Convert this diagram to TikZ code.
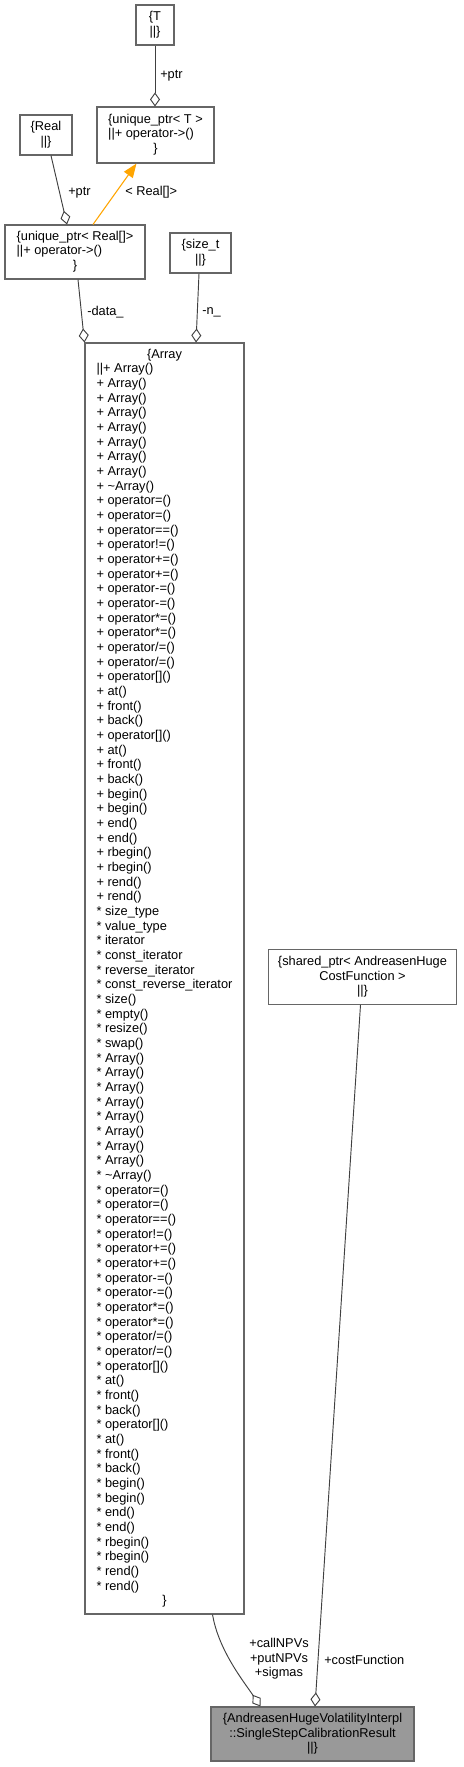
\documentclass[tikz,border=0pt]{standalone}
\usepackage{fontspec}
\setmainfont{Liberation Sans}
\usepackage{tikz}
\usetikzlibrary{arrows.meta, positioning, calc}
\usepackage{xcolor}

\definecolor{nodeedge}{HTML}{666666}
\definecolor{linkgray}{HTML}{404040}
\definecolor{curfill}{HTML}{999999}
\definecolor{tmplorange}{HTML}{FFA500}

\newcommand{\ctrrow}[1]{\multicolumn{1}{@{}c@{}}{#1}}
\newcommand{\memb}[2]{#1 #2}
% the operator block is the same for the + and the * part
\newcommand{\arrayops}[1]{%
  \memb{#1}{operator=()}\\ \memb{#1}{operator=()}\\ \memb{#1}{operator==()}\\
  \memb{#1}{operator!=()}\\ \memb{#1}{operator+=()}\\ \memb{#1}{operator+=()}\\
  \memb{#1}{operator-=()}\\ \memb{#1}{operator-=()}\\ \memb{#1}{operator*=()}\\
  \memb{#1}{operator*=()}\\ \memb{#1}{operator/=()}\\ \memb{#1}{operator/=()}\\
  \memb{#1}{operator[]()}\\ \memb{#1}{at()}\\ \memb{#1}{front()}\\ \memb{#1}{back()}\\
  \memb{#1}{operator[]()}\\ \memb{#1}{at()}\\ \memb{#1}{front()}\\ \memb{#1}{back()}\\
  \memb{#1}{begin()}\\ \memb{#1}{begin()}\\ \memb{#1}{end()}\\ \memb{#1}{end()}\\
  \memb{#1}{rbegin()}\\ \memb{#1}{rbegin()}\\ \memb{#1}{rend()}\\ \memb{#1}{rend()}}

\tikzset{
  cls/.style={draw=nodeedge, line width=0.8pt, fill=white, inner sep=0pt,
    font=\fontsize{9.6}{11}\selectfont},
  curcls/.style={cls, fill=curfill},
  agg/.style={draw=linkgray, line width=0.7pt, -{Diamond[open, length=10.5pt, width=7.5pt]}},
  tmpl/.style={draw=tmplorange, line width=0.8pt, -{Triangle[length=10.5pt, width=8pt]}},
  lbl/.style={inner sep=0pt, font=\fontsize{9.6}{11}\selectfont}
}

\begin{document}
\begin{tikzpicture}[x=0.75pt, y=-0.75pt]
\useasboundingbox[fill=white] (0,0) rectangle (464,1767);

% classes
\node[cls, minimum width=28.5pt, minimum height=30pt, align=center] (T) at (155,25) {\{T\\||\}};
\node[cls, minimum width=87.75pt, minimum height=42pt] (uptrT) at (155.5,135)
  {\begin{tabular}{@{}l@{}}\ctrrow{\{unique\_ptr< T >}\\||+ operator->()\\\ctrrow{\}}\end{tabular}};
\node[cls, minimum width=39pt, minimum height=30pt, align=center] (real) at (46,135) {\{Real\\||\}};
\node[cls, minimum width=105pt, minimum height=40.5pt] (uptrReal) at (75,252)
  {\begin{tabular}{@{}l@{}}\ctrrow{\{unique\_ptr< Real[]>}\\||+ operator->()\\\ctrrow{\}}\end{tabular}};
\node[cls, minimum width=45.75pt, minimum height=30pt, align=center] (sizet) at (200.5,253) {\{size\_t\\||\}};
\node[cls, minimum width=119.25pt, minimum height=953.25pt] (array) at (164.5,978.5)
  {\begin{tabular}{@{}l@{}}
  \ctrrow{\{Array}\\
  ||+ Array()\\
  \memb{+}{Array()}\\ \memb{+}{Array()}\\ \memb{+}{Array()}\\ \memb{+}{Array()}\\
  \memb{+}{Array()}\\ \memb{+}{Array()}\\ \memb{+}{Array()}\\
  \memb{+}{\textasciitilde Array()}\\
  \arrayops{+}\\
  \memb{*}{size\_type}\\ \memb{*}{value\_type}\\ \memb{*}{iterator}\\
  \memb{*}{const\_iterator}\\ \memb{*}{reverse\_iterator}\\ \memb{*}{const\_reverse\_iterator}\\
  \memb{*}{size()}\\ \memb{*}{empty()}\\ \memb{*}{resize()}\\ \memb{*}{swap()}\\
  \memb{*}{Array()}\\ \memb{*}{Array()}\\ \memb{*}{Array()}\\ \memb{*}{Array()}\\
  \memb{*}{Array()}\\ \memb{*}{Array()}\\ \memb{*}{Array()}\\ \memb{*}{Array()}\\
  \memb{*}{\textasciitilde Array()}\\
  \arrayops{*}\\
  \ctrrow{\}}
  \end{tabular}};
\node[cls, minimum width=141.3pt, minimum height=41.25pt, align=center] (sharedptr) at (362.5,976.8)
  {\{shared\_ptr< AndreasenHuge\\CostFunction >\\||\}};
\node[curcls, minimum width=152.25pt, minimum height=40.5pt, align=center] (result) at (312.5,1734)
  {\{AndreasenHugeVolatilityInterpl\\::SingleStepCalibrationResult\\||\}};

% relations
\draw[agg] (T.south) -- (T.south |- uptrT.north);
\draw[agg] ($(real.south)+(5,0)$) -- ($(uptrReal.north)+(-8,0)$);
\draw[tmpl] ($(uptrReal.north)+(18,0)$) -- ($(uptrT.south)+(-19,0)$);
\draw[agg] ($(uptrReal.south)+(3,0)$) -- (array.north west);
\draw[agg] ($(sizet.south)+(-1.5,0)$) -- ($(array.north)+(31.5,0)$);
\draw[agg] ($(array.south east)+(-32,0)$) .. controls +(6,36) and +(-16,-24) .. ($(result.north west)+(50,0)$);
\draw[agg] ($(sharedptr.south)+(-2,0)$) -- ($(result.north)+(2.5,0)$);

% labels
\node[lbl, anchor=west] (ptrTlbl) at (160,76) {+ptr};
\node[lbl, anchor=west] (ptrRlbl) at (68,193) {+ptr};
\node[lbl, anchor=west] (tmpllbl) at (125,192) {< Real[]>};
\node[lbl, anchor=west] (datalbl) at (87,312) {-data\_};
\node[lbl, anchor=west] (nlbl) at (202,312) {-n\_};
\node[lbl, align=center] (npvlbl) at (279,1659) {+callNPVs\\+putNPVs\\+sigmas};
\node[lbl, anchor=west] (costlbl) at (324,1660) {+costFunction};
\end{tikzpicture}
\end{document}
